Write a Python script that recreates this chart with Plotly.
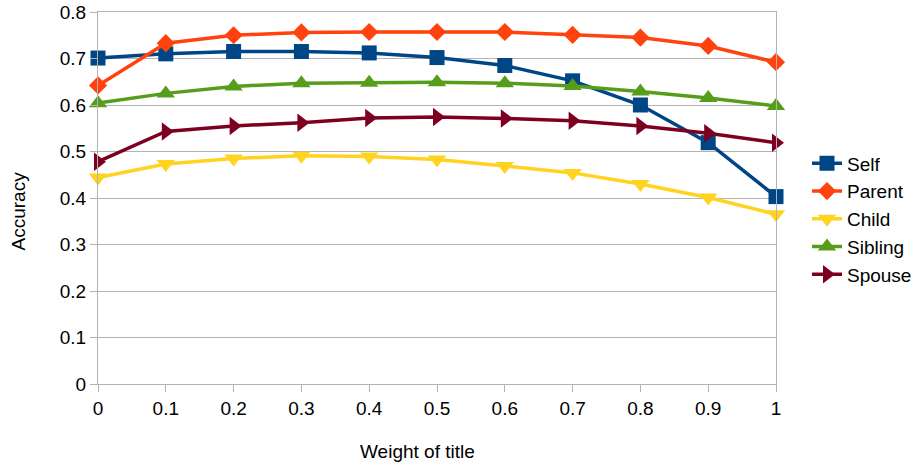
import plotly.graph_objects as go

x = [0, 0.1, 0.2, 0.3, 0.4, 0.5, 0.6, 0.7, 0.8, 0.9, 1]
x_labels = ["0", "0.1", "0.2", "0.3", "0.4", "0.5", "0.6", "0.7", "0.8", "0.9", "1"]
self_acc = [0.701, 0.710, 0.715, 0.715, 0.712, 0.702, 0.685, 0.652, 0.600, 0.519, 0.403]
parent_acc = [0.642, 0.733, 0.750, 0.756, 0.757, 0.757, 0.757, 0.751, 0.745, 0.727, 0.692]
child_acc = [0.444, 0.473, 0.485, 0.491, 0.489, 0.483, 0.469, 0.454, 0.430, 0.401, 0.365]
sibling_acc = [0.604, 0.625, 0.640, 0.647, 0.648, 0.649, 0.647, 0.641, 0.629, 0.615, 0.598]
spouse_acc = [0.478, 0.543, 0.555, 0.562, 0.572, 0.574, 0.571, 0.566, 0.555, 0.539, 0.519]

series = [
    ("Self", self_acc, "#004586", "square", 15),
    ("Parent", parent_acc, "#ff420e", "diamond", 14),
    ("Child", child_acc, "#ffd320", "triangle-down", 16),
    ("Sibling", sibling_acc, "#579d1c", "triangle-up", 16),
    ("Spouse", spouse_acc, "#7e0021", "triangle-right", 16),
]

W, H = 923, 465
px_left, px_right, px_top, px_bottom = 98, 776, 12, 384
L, T = px_left, px_top
R, B = W - px_right, H - px_bottom
pw, ph = W - L - R, H - T - B


def fx(px):
    return (px - px_left) / pw


def fy(py):
    return (px_bottom - py) / ph


fig = go.Figure()
for name, ys, color, sym, size in series:
    fig.add_trace(go.Scatter(
        x=x, y=ys, name=name, mode="lines+markers",
        line=dict(color=color, width=3.5),
        marker=dict(symbol=sym, size=size, color=color),
        cliponaxis=False,
    ))

fig.update_layout(
    width=W, height=H,
    margin=dict(l=L, r=R, t=T, b=B, autoexpand=False),
    paper_bgcolor="white", plot_bgcolor="white",
    font=dict(family="Liberation Sans, Arial, sans-serif", color="#000000"),
    legend=dict(x=fx(807), y=fy(219), yanchor="middle", xanchor="left",
                font=dict(size=19), itemwidth=30, tracegroupgap=0),
    showlegend=True,
    annotations=[
        dict(text="Weight of title", xref="paper", yref="paper",
             x=fx(417), y=fy(451), xanchor="center", yanchor="middle",
             showarrow=False, font=dict(size=19)),
        dict(text="Accuracy", xref="paper", yref="paper", textangle=-90,
             x=fx(17.5), y=fy(211), xanchor="center", yanchor="middle",
             showarrow=False, font=dict(size=19)),
    ],
)
fig.update_xaxes(
    range=[0, 1], tickmode="array", tickvals=x, ticktext=x_labels,
    showgrid=False, zeroline=False, automargin=False,
    showline=True, linecolor="#b3b3b3", linewidth=1, mirror=True,
    ticks="outside", ticklen=7, tickcolor="#b3b3b3",
    tickfont=dict(size=19), ticklabeloverflow="allow",
)
fig.update_yaxes(
    range=[0, 0.8], dtick=0.1, tickformat=".1~f",
    showgrid=True, gridcolor="#b3b3b3", gridwidth=1, zeroline=False, automargin=False,
    showline=True, linecolor="#b3b3b3", linewidth=1, mirror=True,
    ticks="outside", ticklen=7, tickcolor="#b3b3b3",
    tickfont=dict(size=19), ticklabeloverflow="allow",
)
fig.write_html(
    "out.html",
    config={"displayModeBar": False},
    post_script="document.body.style.margin='0';document.body.style.padding='0';",
)
